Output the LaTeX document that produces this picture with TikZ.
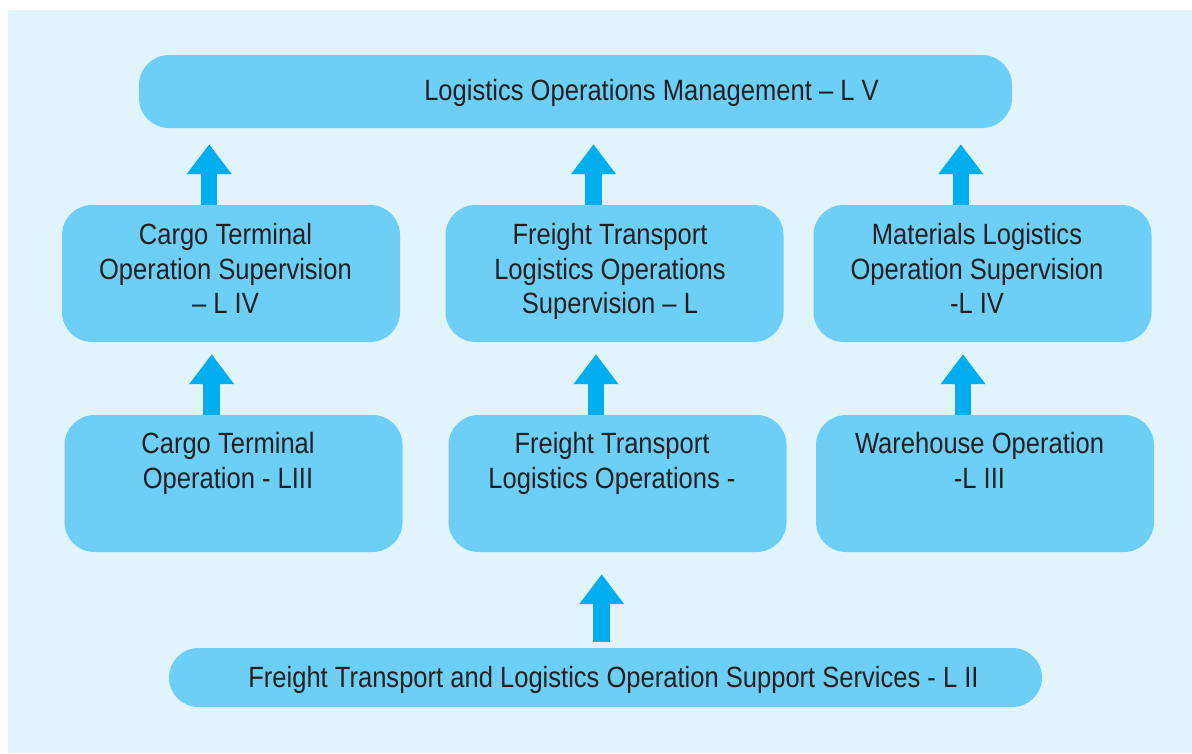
\documentclass[tikz,border=0pt]{standalone}
\usepackage{fontspec}
\setmainfont{Liberation Sans}[FakeStretch=0.872]
\usetikzlibrary{arrows.meta}
\definecolor{bgc}{HTML}{E1F3FB}
\definecolor{boxc}{HTML}{6DCFF6}
\definecolor{arrc}{HTML}{00AEEF}
\definecolor{txtc}{HTML}{231F20}
\begin{document}
\begin{tikzpicture}[x=1pt,y=-1pt,
  box/.style={fill=boxc, draw=none, rounded corners=30pt, inner sep=0pt, minimum width=338pt, minimum height=137pt},
  lab/.style={text=txtc, align=center, inner sep=0pt, anchor=north, font=\fontsize{29.3pt}{34.7pt}\selectfont},
  uparrow/.style={draw=arrc, line width=16.5pt, -{Triangle[width=43pt,length=30pt]}}]
\useasboundingbox (0,0) rectangle (1192,753);
\fill[bgc] (8,10) rectangle (1192,753);
% boxes
\node[box, minimum width=873pt, minimum height=73pt] (top) at (575.5,91.5) {};
\node[box] (c4) at (231,273.5) {};
\node[box] (f4) at (614.5,273.5) {};
\node[box] (m4) at (982.5,273.5) {};
\node[box] (c3) at (233.5,483.5) {};
\node[box] (f3) at (617.5,483.5) {};
\node[box] (w3) at (985,483.5) {};
\node[box, minimum width=873pt, minimum height=59pt, rounded corners=29.5pt] (bot) at (605.5,677.5) {};
% texts
\node[lab] (ttop) at (651.5,79) {Logistics Operations Management – L V};
\node[lab] (tc4) at (225.5,223) {Cargo Terminal\\Operation Supervision\\– L IV};
\node[lab] (tf4) at (610,223) {Freight Transport\\Logistics Operations\\Supervision – L};
\node[lab] (tm4) at (977,223) {Materials Logistics\\Operation Supervision\\-L IV};
\node[lab] (tc3) at (228,432.5) {Cargo Terminal\\Operation - LIII};
\node[lab] (tf3) at (612,432.5) {Freight Transport\\Logistics Operations -};
\node[lab] (tw3) at (979.5,432.5) {Warehouse Operation\\-L III};
\node[lab] (tbot) at (613.5,666) {Freight Transport and Logistics Operation Support Services - L II};
% arrows
\draw[uparrow, shorten >=16pt] ([xshift=-21.8pt]c4.north) -- ([xshift=-21.8pt]c4.north |- top.south);
\draw[uparrow, shorten >=16pt] ([xshift=-21pt]f4.north) -- ([xshift=-21pt]f4.north |- top.south);
\draw[uparrow, shorten >=16pt] ([xshift=-21.7pt]m4.north) -- ([xshift=-21.7pt]m4.north |- top.south);
\draw[uparrow, shorten >=12pt] ([xshift=-21.8pt]c3.north) -- ([xshift=-21.8pt]c3.north |- c4.south);
\draw[uparrow, shorten >=12pt] ([xshift=-21.5pt]f3.north) -- ([xshift=-21.5pt]f3.north |- f4.south);
\draw[uparrow, shorten >=12pt] ([xshift=-22pt]w3.north) -- ([xshift=-22pt]w3.north |- m4.south);
\draw[uparrow, shorten <=6pt, shorten >=22pt] ([xshift=-3.8pt]bot.north) -- ([xshift=-3.8pt]bot.north |- f3.south);
\end{tikzpicture}
\end{document}
